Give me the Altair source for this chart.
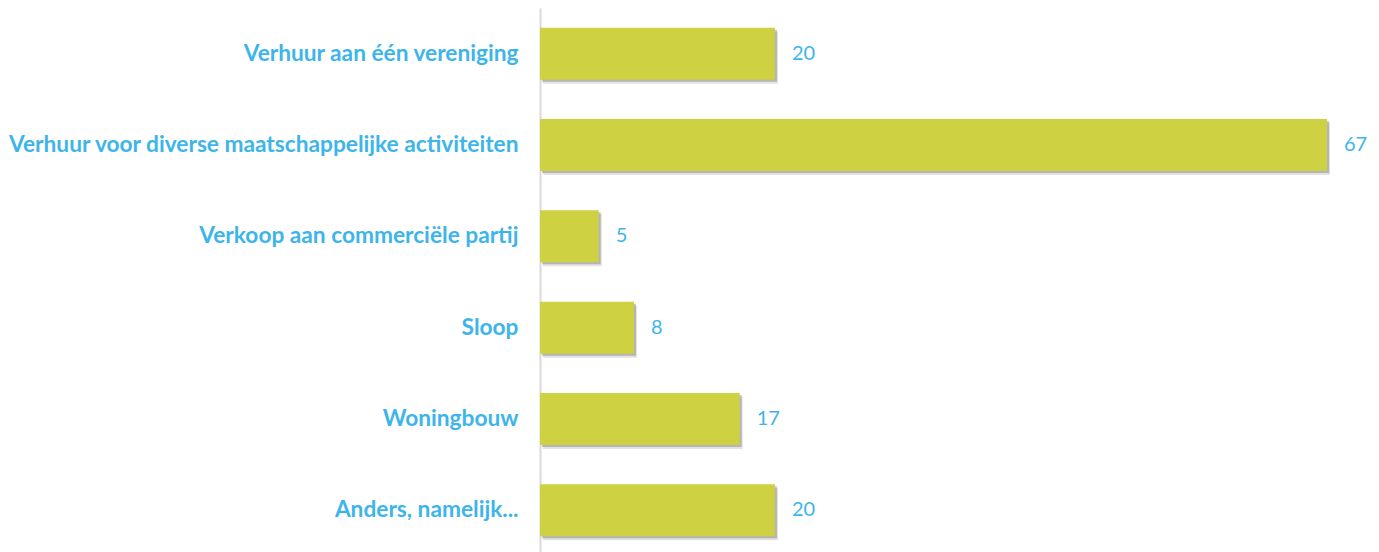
import altair as alt
import pandas as pd

categories = [
    "Verhuur aan één vereniging",
    "Verhuur voor diverse maatschappelijke activiteiten",
    "Verkoop aan commerciële partij",
    "Sloop",
    "Woningbouw",
    "Anders, namelijk...",
]
values = [20, 67, 5, 8, 17, 20]

df = pd.DataFrame({"cat": categories, "val": values})

BAR = "#CED141"
BLUE = "#3DB5EA"

x = alt.X("val:Q", scale=alt.Scale(domain=[0, 71], nice=False), axis=None)
y = alt.Y(
    "cat:N",
    sort=categories,
    scale=alt.Scale(paddingInner=0.43, paddingOuter=0.215),
    axis=alt.Axis(
        title=None,
        ticks=False,
        domain=True,
        domainColor="#D9D9D9",
        domainWidth=2,
        labelFont="Lato",
        labelFontSize=22.7,
        labelFontWeight="bold",
        labelColor=BLUE,
        labelPadding=22,
        labelLimit=700,
        grid=False,
    ),
)

base = alt.Chart(df)

shadow2 = base.mark_bar(color="#606060", opacity=0.18, xOffset=3, yOffset=4).encode(x=x, y=y)
shadow = base.mark_bar(color="#606060", opacity=0.35, xOffset=2, yOffset=2).encode(x=x, y=y)
bars = base.mark_bar(color=BAR).encode(x=x, y=y)
labels = base.mark_text(
    align="left", baseline="middle", dx=17, font="Lato", fontSize=20, color=BLUE
).encode(x=x, y=y, text="val:Q")

chart = (
    alt.layer(shadow2, shadow, bars, labels)
    .properties(
        width=834,
        height=548,
        autosize=alt.AutoSizeParams(type="none"),
        padding={"left": 540, "top": 8, "right": 5, "bottom": 0},
        view=alt.ViewBackground(stroke="transparent", strokeWidth=0),
    )
    .configure_view(strokeWidth=0, stroke="transparent")
    .configure(background="white")
)

chart.save("out.html", embed_options={"renderer": "svg", "actions": False})
